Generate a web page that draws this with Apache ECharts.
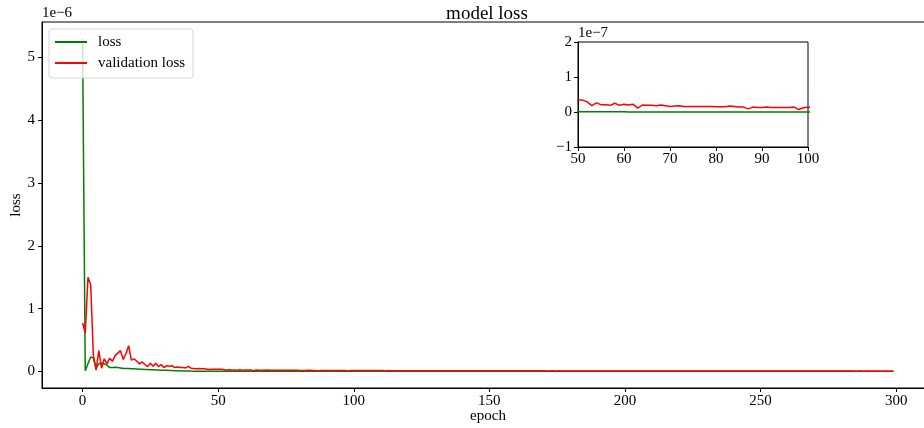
<!DOCTYPE html>
<html>
<head>
<meta charset="utf-8">
<script src="https://cdn.jsdelivr.net/npm/echarts@6/dist/echarts.min.js"></script>
<style>
  html, body { margin: 0; padding: 0; background: #fff; }
  #chart { width: 924px; height: 428px; }
</style>
</head>
<body>
<div id="chart"></div>
<script>
// Training history: loss per epoch, values in units of 1e-6
const lossE6 = [
  5.30, 0.01, 0.12, 0.23, 0.21, 0.05, 0.12, 0.13, 0.12, 0.10,
  0.06, 0.06, 0.065, 0.06, 0.055, 0.045, 0.045, 0.045, 0.042, 0.04,
  0.038, 0.035, 0.033, 0.031, 0.029, 0.027, 0.025, 0.023, 0.021, 0.019,
  0.018, 0.016, 0.014, 0.012, 0.010, 0.009, 0.008, 0.007, 0.006, 0.005,
  0.004, 0.0035, 0.003, 0.0025, 0.002, 0.0017, 0.0014, 0.0011, 0.0009, 0.0007,
  .00050,.00048,.00046,.00045,.00043,.00042,.00040,.00039,.00038,.00037,
  .00036,.00035,.00034,.00033,.00032,.00031,.00030,.00030,.00029,.00028,
  .00028,.00027,.00026,.00026,.00025,.00025,.00024,.00024,.00023,.00023,
  .00022,.00022,.00021,.00021,.00021,.00020,.00020,.00019,.00019,.00019,
  .00018,.00018,.00018,.00017,.00017,.00017,.00016,.00016,.00016,.00016,
  .00015,.00015,.00015,.00015,.00014,.00014,.00014,.00014,.00014,.00013,
  .00013,.00013,.00013,.00013,.00012,.00012,.00012,.00012,.00012,.00012,
  .00011,.00011,.00011,.00011,.00011,.00011,.00011,.00011,.00011,.00011,
  .00011,.00011,.00010,.00010,.00010,.00010,.00010,.00010,.00010,.00010,
  .00010,.00010,.00010,.00010,.00010,.00010,.00010,.00010,.00010,.00010,
  .00010,.00010,.00009,.00009,.00009,.00009,.00009,.00009,.00009,.00009,
  .00009,.00009,.00009,.00009,.00009,.00009,.00009,.00009,.00009,.00009,
  .00009,.00009,.00009,.00008,.00008,.00008,.00008,.00008,.00008,.00008,
  .00008,.00008,.00008,.00008,.00008,.00008,.00008,.00008,.00008,.00008,
  .00008,.00008,.00008,.00008,.00008,.00008,.00008,.00008,.00008,.00008,
  .00008,.00008,.00007,.00007,.00007,.00007,.00007,.00007,.00007,.00007,
  .00007,.00007,.00007,.00007,.00007,.00007,.00007,.00007,.00007,.00007,
  .00007,.00007,.00007,.00007,.00007,.00007,.00007,.00007,.00007,.00007,
  .00007,.00007,.00007,.00007,.00006,.00006,.00006,.00006,.00006,.00006,
  .00006,.00006,.00006,.00006,.00006,.00006,.00006,.00006,.00006,.00006,
  .00006,.00006,.00006,.00006,.00006,.00006,.00006,.00006,.00006,.00006,
  .00006,.00006,.00006,.00006,.00006,.00006,.00006,.00006,.00006,.00006,
  .00006,.00006,.00005,.00005,.00005,.00005,.00005,.00005,.00005,.00005,
  .00005,.00005,.00005,.00005,.00005,.00005,.00005,.00005,.00005,.00005,
  .00005,.00005,.00005,.00005,.00005,.00005,.00005,.00005,.00005,.00005
];

// Validation loss per epoch, units of 1e-6
const valLossE6 = [
  0.77, 0.61, 1.50, 1.38, 0.25, 0.02, 0.33, 0.05, 0.20, 0.12,
  0.21, 0.16, 0.25, 0.29, 0.33, 0.19, 0.28, 0.41, 0.18, 0.20,
  0.16, 0.12, 0.15, 0.11, 0.075, 0.13, 0.08, 0.13, 0.075, 0.11,
  0.06, 0.09, 0.08, 0.09, 0.06, 0.07, 0.06, 0.06, 0.055, 0.08,
  0.05, 0.045, 0.04, 0.045, 0.04, 0.04, 0.035, 0.03, 0.035, 0.032,
  .034,.034,.029,.018,.026,.021,.021,.019,.025,.019,
  .022,.020,.022,.011,.020,.019,.019,.018,.020,.018,
  .016,.017,.018,.016,.016,.016,.016,.016,.016,.016,
  .015,.015,.015,.017,.016,.014,.014,.009,.014,.013,
  .013,.014,.013,.013,.013,.013,.013,.014,.007,.012,
  .0135,.0130,.0128,.0131,.0126,.0124,.0127,.0122,.0120,.0123,
  .0121,.0118,.0116,.0119,.0115,.0113,.0117,.0112,.0110,.0114,
  .0111,.0109,.0112,.0107,.0106,.0109,.0104,.0103,.0106,.0102,
  .0101,.0104,.0099,.0098,.0101,.0097,.0096,.0099,.0094,.0095,
  .0097,.0093,.0092,.0095,.0091,.0090,.0093,.0089,.0088,.0091,
  .0088,.0087,.0089,.0086,.0085,.0088,.0084,.0083,.0086,.0082,
  .0083,.0085,.0081,.0080,.0083,.0079,.0080,.0082,.0078,.0079,
  .0081,.0077,.0076,.0079,.0075,.0077,.0078,.0074,.0075,.0077,
  .0073,.0074,.0076,.0072,.0073,.0075,.0071,.0072,.0074,.0070,
  .0071,.0073,.0069,.0070,.0072,.0068,.0069,.0071,.0067,.0068,
  .0070,.0066,.0067,.0069,.0065,.0066,.0068,.0064,.0065,.0067,
  .0063,.0064,.0066,.0063,.0062,.0065,.0061,.0062,.0064,.0060,
  .0061,.0063,.0060,.0059,.0062,.0058,.0059,.0061,.0057,.0058,
  .0060,.0057,.0056,.0059,.0055,.0056,.0058,.0054,.0055,.0057,
  .0054,.0053,.0056,.0052,.0053,.0055,.0051,.0052,.0054,.0050,
  .0051,.0053,.0050,.0049,.0052,.0048,.0049,.0051,.0047,.0048,
  .0050,.0047,.0046,.0049,.0045,.0046,.0048,.0044,.0045,.0047,
  .0044,.0043,.0046,.0042,.0043,.0045,.0041,.0042,.0044,.0040,
  .0041,.0043,.0040,.0039,.0042,.0038,.0039,.0041,.0038,.0037,
  .0040,.0036,.0037,.0039,.0035,.0036,.0038,.0034,.0035,.0036
];

const mainXTicks = [0, 50, 100, 150, 200, 250, 300];
const mainYTicks = [0, 1, 2, 3, 4, 5];

const FONT = '"Liberation Serif", "DejaVu Serif", serif';
const toPairs = (arr, k) => arr.map((v, i) => [i, v * k]);

const chart = echarts.init(document.getElementById('chart'), null, { renderer: 'canvas' });

const labelStyle = { color: '#000', fontFamily: FONT, fontSize: 15 };
const tickStyle = { color: '#000', width: 1 };

chart.setOption({
  animation: false,
  backgroundColor: '#fff',
  title: {
    text: 'model loss',
    left: 482, top: 0, textAlign: 'center',
    textStyle: { fontFamily: FONT, fontSize: 19, fontWeight: 'normal', color: '#000' }
  },
  legend: {
    data: ['loss', 'validation loss'],
    orient: 'vertical',
    left: 49, top: 29,
    padding: [5, 8, 7, 6],
    itemWidth: 32, itemHeight: 2,
    itemGap: 5,
    icon: 'rect',
    backgroundColor: 'rgba(255,255,255,0.8)',
    borderColor: '#d6d6d6', borderWidth: 1, borderRadius: 3,
    textStyle: { fontFamily: FONT, fontSize: 15, color: '#000', lineHeight: 16, padding: [0, 0, 0, 6] }
  },
  grid: [
    { left: 42, top: 22, width: 892, height: 366, outerBoundsMode: 'none', containLabel: false,
      show: true, borderColor: '#000', borderWidth: 1, backgroundColor: 'transparent' },
    { left: 578, top: 42, width: 230, height: 105, outerBoundsMode: 'none', containLabel: false,
      show: true, borderColor: '#000', borderWidth: 1, backgroundColor: '#fff', z: 5 }
  ],
  xAxis: [
    {
      gridIndex: 0, type: 'value', min: -14.95, max: 313.95,
      name: 'epoch', nameLocation: 'middle', nameGap: 21, nameMoveOverlap: false,
      nameTextStyle: labelStyle,
      axisLine: { show: true, onZero: false, lineStyle: tickStyle },
      axisTick: { show: true, length: 4, lineStyle: tickStyle, customValues: mainXTicks },
      axisLabel: Object.assign({ margin: 6, customValues: mainXTicks }, labelStyle),
      splitLine: { show: false }
    },
    {
      gridIndex: 1, type: 'value', min: 50, max: 100, interval: 10,
      axisLine: { show: true, onZero: false, lineStyle: tickStyle },
      axisTick: { show: true, length: 4, lineStyle: tickStyle },
      axisLabel: Object.assign({ margin: 5, showMinLabel: true, showMaxLabel: true }, labelStyle),
      splitLine: { show: false },
      z: 6
    }
  ],
  yAxis: [
    {
      gridIndex: 0, type: 'value', min: -0.265, max: 5.565,
      name: 'loss', nameLocation: 'middle', nameGap: 18, nameRotate: 90, nameMoveOverlap: false,
      nameTextStyle: labelStyle,
      axisLine: { show: true, onZero: false, lineStyle: tickStyle },
      axisTick: { show: true, length: 4, lineStyle: tickStyle, customValues: mainYTicks },
      axisLabel: Object.assign({ margin: 7, customValues: mainYTicks }, labelStyle),
      splitLine: { show: false }
    },
    {
      gridIndex: 1, type: 'value', min: -1, max: 2, interval: 1,
      axisLine: { show: true, onZero: false, lineStyle: tickStyle },
      axisTick: { show: true, length: 4, lineStyle: tickStyle },
      axisLabel: Object.assign({ margin: 6, showMinLabel: true, showMaxLabel: true,
        formatter: v => (v < 0 ? '\u2212' + Math.abs(v) : String(v)) }, labelStyle),
      splitLine: { show: false },
      z: 6
    }
  ],
  series: [
    {
      name: 'loss', type: 'line', xAxisIndex: 0, yAxisIndex: 0,
      data: toPairs(lossE6, 1), showSymbol: false, symbol: 'none',
      lineStyle: { color: '#008000', width: 1.5 }, itemStyle: { color: '#008000' }
    },
    {
      name: 'validation loss', type: 'line', xAxisIndex: 0, yAxisIndex: 0,
      data: toPairs(valLossE6, 1), showSymbol: false, symbol: 'none',
      lineStyle: { color: '#ff0000', width: 1.5 }, itemStyle: { color: '#ff0000' }
    },
    // zoomed view of epochs 50-100, values in units of 1e-7
    {
      name: 'loss', type: 'line', xAxisIndex: 1, yAxisIndex: 1, clip: true, z: 7,
      data: toPairs(lossE6, 10), showSymbol: false, symbol: 'none',
      lineStyle: { color: '#008000', width: 1.5 }, itemStyle: { color: '#008000' }
    },
    {
      name: 'validation loss', type: 'line', xAxisIndex: 1, yAxisIndex: 1, clip: true, z: 7,
      data: toPairs(valLossE6, 10), showSymbol: false, symbol: 'none',
      lineStyle: { color: '#ff0000', width: 1.5 }, itemStyle: { color: '#ff0000' }
    }
  ],
  graphic: [
    { type: 'text', left: 42, top: 6, style: { text: '1e\u22126', font: '15px ' + FONT, fill: '#000' } },
    { type: 'text', left: 578, top: 26, z: 10, style: { text: '1e\u22127', font: '15px ' + FONT, fill: '#000' } }
  ]
});
</script>
</body>
</html>
